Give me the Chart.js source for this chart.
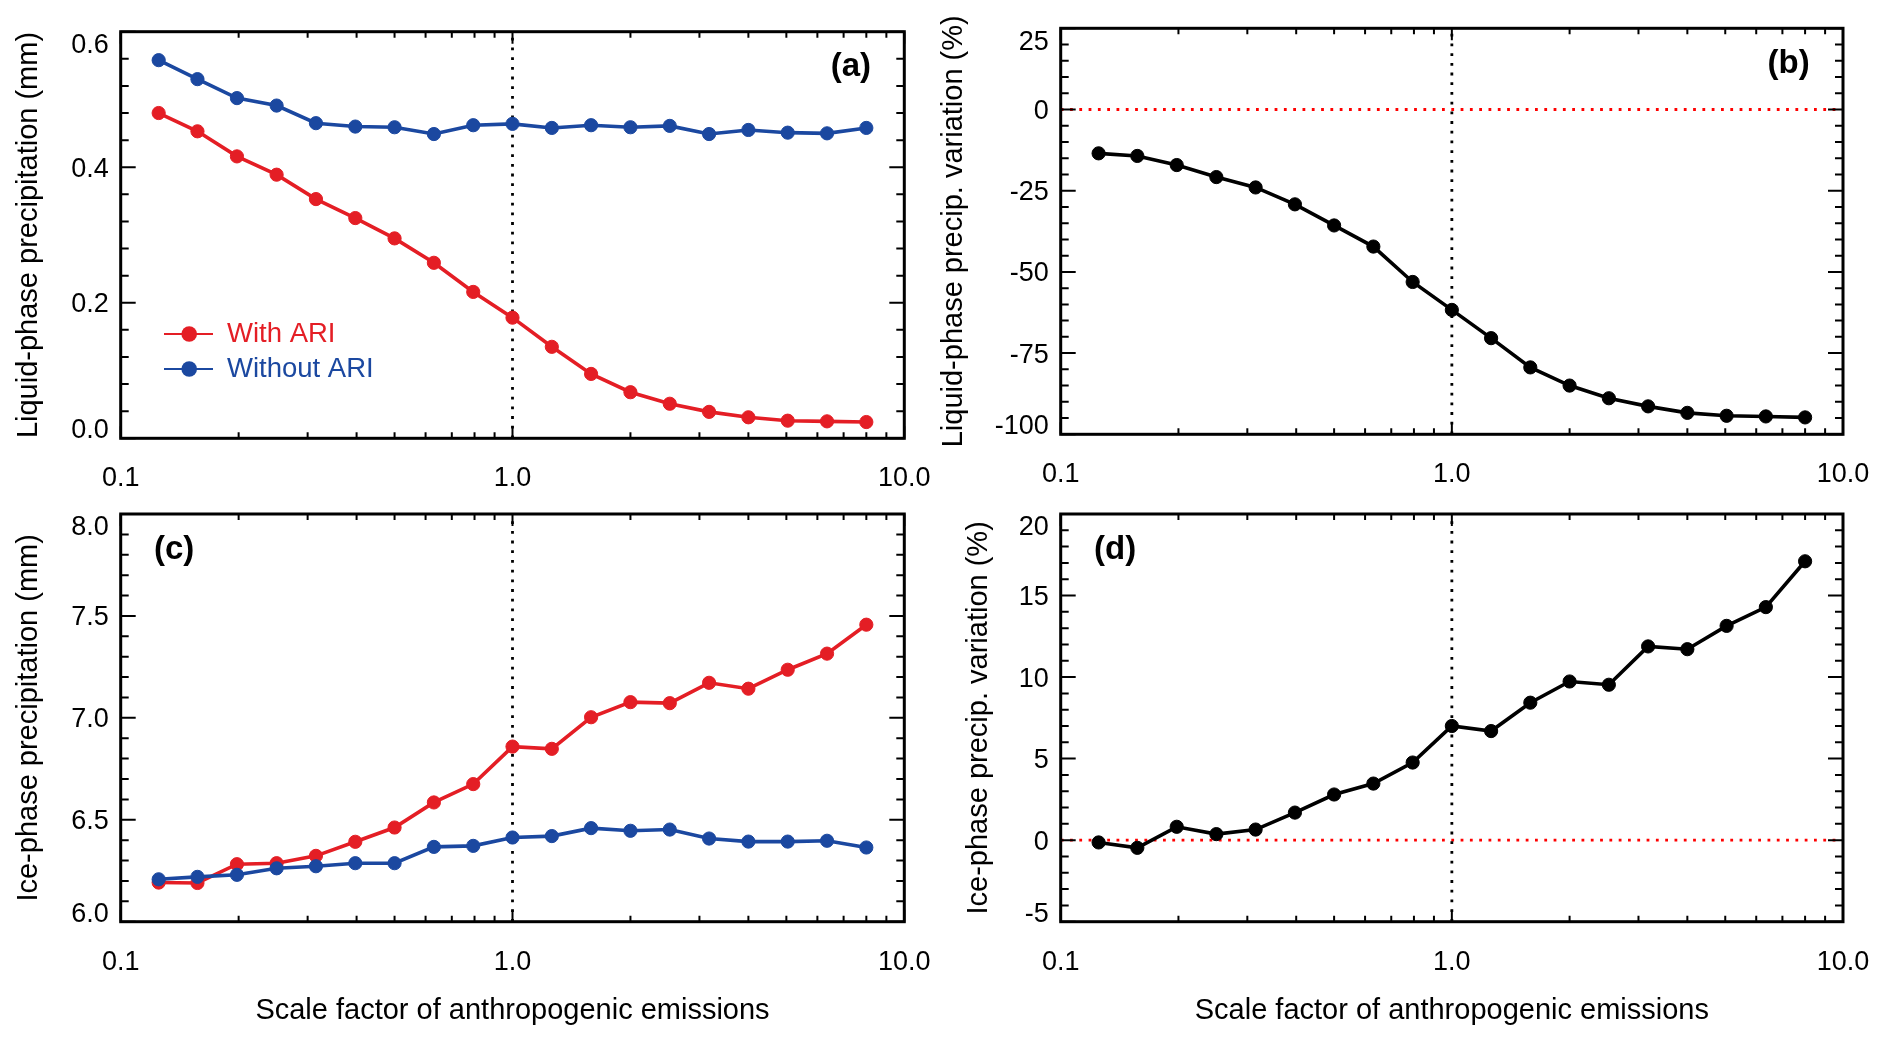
<!DOCTYPE html>
<html>
<head>
<meta charset="utf-8">
<script src="https://cdn.jsdelivr.net/npm/chart.js@4.4.1/dist/chart.umd.min.js"></script>
<style>
  html, body { margin: 0; padding: 0; background: #ffffff; }
  #wrap { position: relative; width: 1892px; height: 1039px; overflow: hidden; background: #ffffff; }
  canvas { position: absolute; }
</style>
</head>
<body>
<div id="wrap">
  <canvas id="pa"></canvas>
  <canvas id="pb"></canvas>
  <canvas id="pc"></canvas>
  <canvas id="pd"></canvas>
</div>
<script>
// ---------------- DATA ----------------
const scaleFactors = [0.125, 0.157, 0.198, 0.25, 0.315, 0.397, 0.5, 0.63, 0.794, 1.0,
                      1.26, 1.587, 2.0, 2.52, 3.175, 4.0, 5.04, 6.35, 8.0];

const liquidWithARI    = [0.480, 0.453, 0.416, 0.389, 0.353, 0.325, 0.295, 0.259, 0.216, 0.178,
                          0.135, 0.095, 0.068, 0.051, 0.039, 0.031, 0.026, 0.025, 0.024];
const liquidWithoutARI = [0.558, 0.530, 0.502, 0.491, 0.465, 0.460, 0.459, 0.449, 0.462, 0.464,
                          0.458, 0.462, 0.459, 0.461, 0.449, 0.455, 0.451, 0.450, 0.458];
const liquidVariation  = [-13.5, -14.3, -17.1, -20.8, -24.0, -29.2, -35.7, -42.2, -53.1, -61.7,
                          -70.4, -79.4, -85.0, -88.9, -91.4, -93.4, -94.3, -94.5, -94.8];

const iceWithARI    = [6.192, 6.190, 6.282, 6.287, 6.323, 6.392, 6.462, 6.585, 6.675, 6.859,
                       6.848, 7.003, 7.077, 7.072, 7.172, 7.143, 7.236, 7.315, 7.457];
const iceWithoutARI = [6.208, 6.220, 6.230, 6.262, 6.272, 6.287, 6.287, 6.367, 6.372, 6.413,
                       6.420, 6.459, 6.446, 6.452, 6.408, 6.393, 6.393, 6.397, 6.364];
const iceVariation  = [-0.14, -0.47, 0.82, 0.37, 0.65, 1.69, 2.80, 3.47, 4.76, 7.00,
                       6.69, 8.43, 9.73, 9.53, 11.88, 11.71, 13.14, 14.29, 17.10];

const seriesNames = ['With ARI', 'Without ARI'];

const xTickValues = [0.1, 1, 10];
const xTickLabels = ['0.1', '1.0', '10.0'];

const yTicksA  = [0.0, 0.2, 0.4, 0.6];
const yLabelsA = ['0.0', '0.2', '0.4', '0.6'];
const yTicksB  = [-100, -75, -50, -25, 0, 25];
const yLabelsB = ['-100', '-75', '-50', '-25', '0', '25'];
const yTicksC  = [6.0, 6.5, 7.0, 7.5, 8.0];
const yLabelsC = ['6.0', '6.5', '7.0', '7.5', '8.0'];
const yTicksD  = [-5, 0, 5, 10, 15, 20];
const yLabelsD = ['-5', '0', '5', '10', '15', '20'];

const yTitles = ['Liquid-phase precipitation (mm)', 'Liquid-phase precip. variation (%)',
                 'Ice-phase precipitation (mm)', 'Ice-phase precip. variation (%)'];
const xTitle = 'Scale factor of anthropogenic emissions';
const panelLetters = ['(a)', '(b)', '(c)', '(d)'];
const referenceX = 1;
const referenceY = 0;

// ---------------- STYLE ----------------
const FONT = "'Liberation Sans', Arial, Helvetica, sans-serif";
const RED = '#E41E25';
const BLUE = '#1B48A0';
const BLACK = '#000000';
const DOT_RED = '#FF0000';

function pts(vals) { return scaleFactors.map((x, i) => ({ x: x, y: vals[i] })); }

function seriesDS(label, vals, color, order) {
  return {
    label: label, data: pts(vals), isSeries: true,
    borderColor: color, backgroundColor: color, borderWidth: 3.6,
    pointRadius: 6.6, pointBorderWidth: 1, pointBackgroundColor: color, pointBorderColor: color,
    tension: 0, order: order
  };
}
function vRefDS(yTicks) {
  return {
    label: 'x = 1', data: [{ x: referenceX, y: yTicks[0] }, { x: referenceX, y: yTicks[yTicks.length - 1] }],
    borderColor: BLACK, borderWidth: 2.8, borderDash: [2.8, 6.9], pointRadius: 0, order: 5
  };
}
function hRefDS() {
  return {
    label: 'y = 0', data: [{ x: xTickValues[0], y: referenceY }, { x: xTickValues[xTickValues.length - 1], y: referenceY }],
    borderColor: DOT_RED, borderWidth: 2.8, borderDash: [2.8, 6.5], pointRadius: 0, order: 6
  };
}

function decorPlugin(p) {
  return {
    id: 'decor',
    afterDraw(chart) {
      const ctx = chart.ctx, a = chart.chartArea, x = chart.scales.x, y = chart.scales.y;
      ctx.save();
      // inward ticks on all sides
      ctx.strokeStyle = BLACK; ctx.lineWidth = 2; ctx.lineCap = 'butt';
      ctx.beginPath();
      const lo = Math.round(Math.log10(xTickValues[0])), hi = Math.round(Math.log10(xTickValues[xTickValues.length - 1]));
      for (let e = lo; e <= hi; e++) {
        for (let k = 1; k <= 9; k++) {
          if (e === hi && k > 1) break;
          const v = k * Math.pow(10, e);
          const px = x.getPixelForValue(v);
          const len = (k === 1) ? 12 : 6;
          ctx.moveTo(px, a.bottom); ctx.lineTo(px, a.bottom - len);
          ctx.moveTo(px, a.top); ctx.lineTo(px, a.top + len);
        }
      }
      const y0 = p.yTicks[0], y1 = p.yTicks[p.yTicks.length - 1];
      const n = Math.round((y1 - y0) / p.minor);
      for (let i = 0; i <= n; i++) {
        const v = y0 + i * p.minor;
        const py = y.getPixelForValue(v);
        const r = v / p.major;
        const maj = Math.abs(r - Math.round(r)) < 1e-6;
        const len = maj ? 15 : 8;
        ctx.moveTo(a.left, py); ctx.lineTo(a.left + len, py);
        ctx.moveTo(a.right, py); ctx.lineTo(a.right - len, py);
      }
      ctx.stroke();
      // frame
      ctx.lineWidth = 3;
      ctx.strokeRect(a.left, a.top, a.right - a.left, a.bottom - a.top);
      // tick labels
      ctx.fillStyle = BLACK;
      ctx.font = '27px ' + FONT;
      ctx.textBaseline = 'middle';
      ctx.textAlign = 'center';
      xTickValues.forEach((v, i) => ctx.fillText(xTickLabels[i], x.getPixelForValue(v), a.bottom + 40.5));
      ctx.textAlign = 'right';
      p.yTicks.forEach((v, i) => {
        let off = 2;
        if (i === 0) off = -7.5; else if (i === p.yTicks.length - 1) off = 14;
        ctx.fillText(p.yLabels[i], a.left - 12, y.getPixelForValue(v) + off);
      });
      // panel letter
      ctx.font = 'bold 33px ' + FONT;
      if (p.letterRight) { ctx.textAlign = 'right'; ctx.fillText(p.letter, a.right - 33.3, a.top + 35.7); }
      else { ctx.textAlign = 'left'; ctx.fillText(p.letter, a.left + 33.3, a.top + 35.7); }
      // legend
      if (p.legend) {
        const ds = chart.data.datasets.filter(d => d.isSeries);
        ds.forEach((d, i) => {
          const yy = a.bottom - 104.3 + i * 35;
          ctx.strokeStyle = d.borderColor; ctx.lineWidth = 2;
          ctx.beginPath(); ctx.moveTo(a.left + 43.3, yy); ctx.lineTo(a.left + 92.3, yy); ctx.stroke();
          ctx.fillStyle = d.borderColor;
          ctx.beginPath(); ctx.arc(a.left + 68.5, yy, 7.8, 0, 2 * Math.PI); ctx.fill();
          ctx.font = '27.5px ' + FONT; ctx.textAlign = 'left'; ctx.textBaseline = 'middle';
          ctx.fillText(d.label, a.left + 106.3, yy);
        });
      }
      ctx.restore();
    }
  };
}

function makePanel(p) {
  const cv = document.getElementById(p.id);
  cv.width = p.cw; cv.height = p.ch;
  cv.style.left = p.cx + 'px'; cv.style.top = p.cy + 'px';
  cv.style.width = p.cw + 'px'; cv.style.height = p.ch + 'px';
  const L = p.area.l - p.cx, R = p.area.r - p.cx, T = p.area.t - p.cy, B = p.area.b - p.cy;
  new Chart(cv, {
    type: 'line',
    data: { datasets: p.datasets },
    options: {
      responsive: false, animation: false, events: [],
      layout: { padding: { left: 0, top: T, right: p.cw - R, bottom: 0 } },
      plugins: { legend: { display: false }, tooltip: { enabled: false } },
      scales: {
        x: {
          type: 'logarithmic', min: xTickValues[0], max: xTickValues[xTickValues.length - 1],
          grid: { display: false }, border: { display: false }, ticks: { display: false },
          title: p.showXTitle
            ? { display: true, text: xTitle, color: BLACK, font: { family: FONT, size: 29 }, padding: { top: 0, bottom: p.xTitlePad } }
            : { display: false },
          afterFit: s => { s.height = p.ch - B; }
        },
        y: {
          type: 'linear', min: p.yTicks[0], max: p.yTicks[p.yTicks.length - 1],
          grid: { display: false }, border: { display: false }, ticks: { display: false },
          title: { display: true, text: p.yTitle, color: BLACK, font: { family: FONT, size: 29 }, padding: { top: p.yTitlePad, bottom: 0 } },
          afterFit: s => { s.width = L; }
        }
      }
    },
    plugins: [decorPlugin(p)]
  });
}

makePanel({
  id: 'pa', cx: 0, cy: 0, cw: 945, ch: 500,
  area: { l: 120.7, r: 904.3, t: 31.7, b: 438.3 },
  yTicks: yTicksA, yLabels: yLabelsA, minor: 0.04, major: 0.2,
  yTitle: yTitles[0], yTitlePad: 11.6, showXTitle: false,
  letter: panelLetters[0], letterRight: true, legend: true,
  datasets: [seriesDS(seriesNames[0], liquidWithARI, RED, 1), seriesDS(seriesNames[1], liquidWithoutARI, BLUE, 0), vRefDS(yTicksA)]
});
makePanel({
  id: 'pb', cx: 920, cy: 0, cw: 972, ch: 500,
  area: { l: 1060.7, r: 1843, t: 28.3, b: 434.3 },
  yTicks: yTicksB, yLabels: yLabelsB, minor: 5, major: 25,
  yTitle: yTitles[1], yTitlePad: 16.4, showXTitle: false,
  letter: panelLetters[1], letterRight: true, legend: false,
  datasets: [seriesDS('Variation', liquidVariation, BLACK, 0), vRefDS(yTicksB), hRefDS()]
});
makePanel({
  id: 'pc', cx: 0, cy: 490, cw: 945, ch: 549,
  area: { l: 120.7, r: 904.3, t: 514, b: 921.7 },
  yTicks: yTicksC, yLabels: yLabelsC, minor: 0.1, major: 0.5,
  yTitle: yTitles[2], yTitlePad: 11.6, showXTitle: true, xTitlePad: 10.2,
  letter: panelLetters[2], letterRight: false, legend: false,
  datasets: [seriesDS(seriesNames[0], iceWithARI, RED, 1), seriesDS(seriesNames[1], iceWithoutARI, BLUE, 0), vRefDS(yTicksC)]
});
makePanel({
  id: 'pd', cx: 920, cy: 490, cw: 972, ch: 549,
  area: { l: 1060.7, r: 1843, t: 514, b: 921.7 },
  yTicks: yTicksD, yLabels: yLabelsD, minor: 1, major: 5,
  yTitle: yTitles[3], yTitlePad: 41.6, showXTitle: true, xTitlePad: 10.2,
  letter: panelLetters[3], letterRight: false, legend: false,
  datasets: [seriesDS('Variation', iceVariation, BLACK, 0), vRefDS(yTicksD), hRefDS()]
});
</script>
</body>
</html>
